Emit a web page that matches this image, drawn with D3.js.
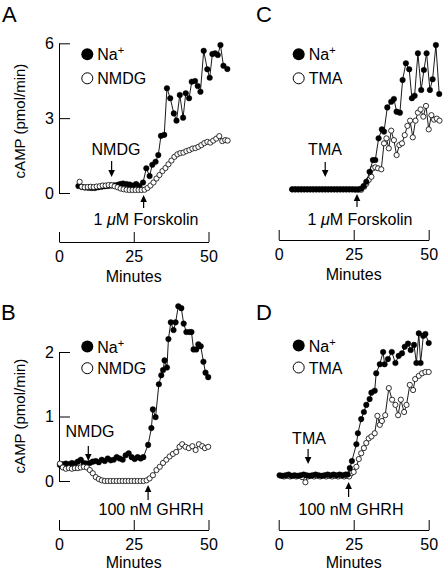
<!DOCTYPE html>
<html><head><meta charset="utf-8">
<script src="https://cdn.jsdelivr.net/npm/d3@7"></script>
<style>
body{margin:0;background:#fff}
text{font-family:"Liberation Sans",Arial,Helvetica,sans-serif;fill:#000}
</style>
</head><body>
<svg id="chart" width="444" height="571"></svg>
<script>
// ---------- data (minutes, cAMP pmol/min) ----------
const xTicks = [0, 25, 50];
const yTicksTop = [0, 3, 6];
const yTicksBottom = [0, 1, 2];

const naA = [[6.5,0.28],[7.6,0.24],[8.7,0.22],[9.8,0.21],[10.9,0.20],[12.0,0.20],[13.1,0.23],[14.2,0.25],[15.3,0.27],[16.4,0.28],[17.5,0.30],[18.6,0.31],[19.7,0.33],[20.5,0.36],[21.4,0.38],[22.5,0.36],[23.6,0.34],[24.7,0.30],[25.8,0.36],[26.9,0.28],[28.1,0.42],[29.2,0.99],[30.3,0.68],[31.2,1.13],[32.3,1.25],[33.2,1.52],[34.1,2.29],[35.2,2.33],[36.1,4.2],[37.2,3.8],[38.4,3.19],[39.3,2.9],[40.4,3.93],[41.5,3.02],[42.4,4.0],[43.5,3.8],[44.4,4.46],[45.5,4.49],[46.4,4.29],[47.3,4.06],[48.4,5.7],[49.6,4.96],[50.4,4.62],[51.3,5.57],[52.2,5.6],[53.1,5.53],[54.0,5.93],[55.0,5.1],[56.3,4.97]];
const nmdgA = [[6.9,0.45],[7.6,0.25],[8.6,0.23],[9.6,0.24],[10.6,0.25],[11.6,0.24],[12.6,0.26],[13.6,0.27],[14.6,0.30],[15.6,0.30],[16.6,0.32],[17.6,0.31],[18.6,0.27],[19.6,0.23],[20.6,0.18],[21.6,0.15],[22.6,0.13],[23.6,0.12],[24.6,0.12],[25.6,0.12],[26.6,0.12],[27.6,0.12],[28.6,0.13],[29.6,0.2],[30.6,0.3],[31.6,0.42],[32.6,0.58],[33.6,0.72],[34.6,0.88],[35.6,1.0],[36.6,1.15],[37.6,1.3],[38.6,1.45],[39.6,1.55],[40.6,1.6],[41.6,1.62],[42.6,1.68],[43.6,1.72],[44.6,1.78],[45.6,1.8],[46.6,1.85],[47.6,1.92],[48.6,2.0],[49.6,2.05],[50.6,2.02],[51.6,2.1],[52.6,2.18],[53.6,2.28],[54.6,2.08],[55.6,2.12],[56.4,2.1]];

const naC = [[4.5,0.15],[5.5,0.15],[6.5,0.15],[7.5,0.15],[8.5,0.15],[9.5,0.15],[10.5,0.15],[11.5,0.15],[12.5,0.15],[13.5,0.15],[14.5,0.15],[15.5,0.15],[16.5,0.15],[17.5,0.15],[18.5,0.15],[19.5,0.15],[20.5,0.15],[21.5,0.15],[22.5,0.15],[23.5,0.15],[24.5,0.15],[25.5,0.15],[26.5,0.15],[27.4,0.17],[28.3,0.28],[29.2,0.45],[30.3,0.85],[31.4,1.32],[32.2,1.32],[33.3,2.19],[34.4,2.55],[35.1,2.46],[36.2,3.43],[37.5,3.66],[38.4,3.77],[39.3,3.26],[40.4,3.22],[41.3,4.53],[42.4,5.2],[43.5,4.96],[44.4,3.8],[45.3,3.9],[46.4,5.6],[47.5,4.13],[48.4,4.93],[49.3,5.6],[50.4,4.13],[51.3,4.56],[52.4,5.93],[53.5,3.97]];
const tmaC = [[4.5,0.14],[5.5,0.14],[6.5,0.14],[7.5,0.14],[8.5,0.14],[9.5,0.14],[10.5,0.14],[11.5,0.14],[12.5,0.14],[13.5,0.14],[14.5,0.14],[15.5,0.14],[16.5,0.14],[17.5,0.14],[18.5,0.14],[19.5,0.14],[20.5,0.14],[21.5,0.14],[22.5,0.14],[23.5,0.14],[24.5,0.14],[25.5,0.13],[26.5,0.13],[27.5,0.13],[28.5,0.25],[29.2,0.37],[30.0,0.52],[30.9,0.65],[31.4,0.99],[32.2,1.03],[33.1,0.99],[34.2,0.95],[35.1,1.99],[35.9,2.19],[36.7,1.79],[37.5,2.5],[38.4,2.12],[39.3,1.52],[40.2,1.92],[41.1,1.99],[42.0,2.32],[42.9,2.69],[43.8,2.9],[44.7,2.23],[45.6,2.9],[46.4,3.22],[47.3,3.35],[48.2,3.06],[49.1,3.49],[50.0,2.55],[50.9,3.12],[51.8,2.94],[52.7,2.98],[53.6,2.9]];

const naB = [[0.3,0.25],[1.3,0.26],[2.3,0.27],[3.3,0.26],[4.3,0.28],[5.3,0.27],[6.3,0.30],[7.3,0.33],[8.3,0.28],[9.3,0.27],[10.3,0.28],[11.3,0.30],[12.3,0.31],[13.3,0.29],[14.3,0.33],[15.3,0.31],[16.3,0.35],[17.3,0.32],[18.3,0.33],[19.3,0.37],[20.3,0.35],[21.3,0.33],[22.3,0.40],[23.3,0.43],[24.3,0.37],[25.3,0.34],[26.3,0.37],[27.3,0.35],[28.2,0.37],[29.8,0.56],[30.9,0.82],[31.4,1.11],[32.3,0.99],[33.4,1.5],[34.2,1.64],[34.8,1.72],[35.3,1.87],[36.1,1.76],[36.6,2.2],[37.4,2.46],[38.3,2.34],[39.0,2.46],[39.9,2.71],[40.9,2.68],[41.7,2.44],[42.6,2.31],[43.7,2.31],[44.3,2.31],[45.0,2.04],[45.9,2.04],[46.6,2.12],[47.4,2.09],[48.3,1.85],[49.0,1.68],[49.9,1.61]];
const nmdgB = [[0.3,0.27],[1.3,0.21],[2.3,0.19],[3.3,0.2],[4.3,0.19],[5.3,0.2],[6.3,0.2],[7.3,0.21],[8.3,0.22],[9.3,0.21],[10.3,0.17],[11.3,0.12],[12.3,0.06],[13.3,0.03],[14.3,0.01],[15.3,0.0],[16.3,0.0],[17.3,0.0],[18.3,0.0],[19.3,0.0],[20.3,0.0],[21.3,0.0],[22.3,0.0],[23.3,0.0],[24.3,0.0],[25.3,0.0],[26.3,0.0],[27.3,0.0],[28.3,0.0],[29.3,0.01],[30.3,0.04],[31.4,0.09],[32.6,0.17],[33.7,0.22],[34.8,0.28],[35.9,0.33],[37.0,0.38],[38.1,0.42],[39.2,0.45],[40.3,0.53],[41.2,0.57],[42.3,0.53],[43.4,0.51],[44.6,0.54],[45.7,0.48],[46.8,0.57],[47.9,0.54],[48.8,0.51],[49.9,0.53]];

const naD = [[0.3,0.09],[1.3,0.08],[2.3,0.09],[3.3,0.1],[4.3,0.08],[5.3,0.09],[6.3,0.08],[7.3,0.09],[8.3,0.1],[9.3,0.09],[10.3,0.08],[11.3,0.09],[12.3,0.1],[13.3,0.09],[14.3,0.08],[15.3,0.09],[16.3,0.1],[17.3,0.09],[18.3,0.1],[19.3,0.09],[20.3,0.1],[21.3,0.09],[22.3,0.1],[23.0,0.1],[23.7,0.2],[24.4,0.31],[25.9,0.57],[26.4,0.74],[27.5,0.96],[28.4,1.07],[29.2,1.18],[30.3,1.27],[30.9,1.37],[32.0,1.4],[32.5,1.67],[33.7,1.81],[34.8,2.0],[35.3,1.81],[36.4,1.89],[37.7,2.0],[38.9,1.83],[40.0,1.94],[41.1,1.98],[42.0,2.08],[43.1,2.13],[44.0,2.03],[45.1,2.11],[45.9,1.83],[46.7,2.29],[47.3,1.83],[48.2,2.25],[48.9,2.28],[50.0,2.14]];
const tmaD = [[0.8,0.08],[1.8,0.07],[2.8,0.08],[3.8,0.07],[4.8,0.08],[5.8,0.07],[6.8,0.08],[7.8,0.06],[8.9,-0.02],[9.8,0.07],[10.8,0.08],[11.8,0.07],[12.8,0.08],[13.8,0.07],[14.8,0.08],[15.8,0.07],[16.8,0.08],[17.8,0.07],[18.8,0.08],[19.8,0.07],[20.8,0.08],[21.8,0.07],[22.8,0.08],[23.5,0.07],[24.2,0.12],[25.0,0.14],[25.9,0.22],[26.7,0.34],[27.5,0.43],[28.4,0.51],[29.2,0.59],[30.0,0.66],[30.9,0.69],[32.0,0.74],[32.9,1.01],[33.7,0.87],[34.4,0.93],[35.5,1.02],[36.7,1.44],[37.8,1.26],[38.9,1.18],[39.8,1.02],[40.7,1.26],[41.8,1.07],[42.6,1.18],[43.7,1.49],[44.8,1.41],[45.5,1.58],[46.7,1.63],[47.8,1.67],[48.9,1.69],[50.0,1.69]];

// ---------- layout ----------
const panels = [
  {letter:"A", lx:2, ly:22, na:naA, alt:nmdgA, altName:"NMDG", xr:[59,208.5], yd:[0,6], yr:[193,43.3], yTicks:yTicksTop, yAxis:true, xAxisY:242, minY:282,
   leg:[87.3,54.3,24], ylab:121, drug:{t:17.6, text:"NMDG", tx:116, ty:155, y1:161, y2:177}, stim:{t:28.3, tx:146, ty:225, y1:195, y2:208, kind:"fsk"}, openTop:true},
  {letter:"C", lx:256, ly:22, na:naC, alt:tmaC, altName:"TMA", xr:[278.7,428.7], yd:[0,6], yr:[193,43.3], yTicks:yTicksTop, yAxis:false, xAxisY:240, minY:280,
   leg:[298.7,54.3,24], drug:{t:15.5, text:"TMA", tx:325, ty:155, y1:162, y2:177}, stim:{t:26.1, tx:360, ty:225, y1:194, y2:207, kind:"fsk"}, openTop:false},
  {letter:"B", lx:1, ly:320, na:naB, alt:nmdgB, altName:"NMDG", xr:[59,208.5], yd:[0,2], yr:[481,352], yTicks:yTicksBottom, yAxis:true, xAxisY:530, minY:568,
   leg:[87.3,346.5,21.7], ylab:416, drug:{t:9.8, text:"NMDG", tx:90, ty:437, y1:446, y2:461}, stim:{t:29.8, tx:151, ty:515, y1:485, y2:500, kind:"ghrh"}, openTop:true},
  {letter:"D", lx:256, ly:320, na:naD, alt:tmaD, altName:"TMA", xr:[278.7,428.7], yd:[0,2], yr:[481,352], yTicks:yTicksBottom, yAxis:false, xAxisY:530, minY:568,
   leg:[298.7,345.5,22], drug:{t:9.8, text:"TMA", tx:309, ty:444, y1:449, y2:464}, stim:{t:23.3, tx:351, ty:515, y1:482, y2:497, kind:"ghrh"}, openTop:false}
];

const svg = d3.select("#chart");
const FS = 16;

function arrow(g, x, yTail, yTip){
  const dir = yTip > yTail ? 1 : -1;
  const hl = 7, hw = 3.3;
  g.append("line").attr("x1",x).attr("x2",x).attr("y1",yTail).attr("y2",yTip - dir*hl)
    .attr("stroke","#000").attr("stroke-width",1.2);
  g.append("path").attr("d",`M${x},${yTip} L${x-hw},${yTip-dir*hl} L${x+hw},${yTip-dir*hl} Z`).attr("fill","#000");
}

panels.forEach(p => {
  const g = svg.append("g");
  const x = d3.scaleLinear().domain([0,50]).range(p.xr);
  const y = d3.scaleLinear().domain(p.yd).range(p.yr);

  g.append("text").attr("x",p.lx).attr("y",p.ly).attr("font-size",22).text(p.letter);

  if (p.yAxis) {
    const ya = g.append("g").attr("transform",`translate(${p.xr[0]},0)`)
      .call(d3.axisLeft(y).tickValues(p.yTicks).tickSizeInner(-11).tickSizeOuter(0).tickPadding(5).tickFormat(d3.format("d")));
    ya.selectAll("path,line").attr("stroke","#000").attr("stroke-width",1);
    ya.selectAll("text").attr("font-size",FS).attr("font-family",null);
    g.append("text").attr("transform",`translate(25,${p.ylab}) rotate(-90)`).attr("text-anchor","middle")
      .attr("font-size",15).text("cAMP (pmol/min)");
  }

  const xa = g.append("g").attr("transform",`translate(0,${p.xAxisY})`)
    .call(d3.axisBottom(x).tickValues(xTicks).tickSizeInner(-10).tickSizeOuter(0).tickPadding(9));
  xa.selectAll("path,line").attr("stroke","#000").attr("stroke-width",1);
  xa.selectAll("text").attr("font-size",FS).attr("font-family",null);
  g.append("text").attr("x",(p.xr[0]+p.xr[1])/2).attr("y",p.minY).attr("text-anchor","middle").attr("font-size",FS).text("Minutes");

  const line = d3.line().x(d=>x(d[0])).y(d=>y(d[1]));
  function drawSeries(data, filled){
    g.append("path").datum(data).attr("d",line).attr("fill","none").attr("stroke","#000").attr("stroke-width",0.9);
    g.selectAll(null).data(data).enter().append("circle")
      .attr("cx",d=>x(d[0])).attr("cy",d=>y(d[1])).attr("r",filled?2.8:2.6)
      .attr("fill",filled?"#000":"#fff").attr("stroke","#000").attr("stroke-width",filled?0.4:0.8);
  }
  if (p.openTop){ drawSeries(p.na,true); drawSeries(p.alt,false); }
  else { drawSeries(p.alt,false); drawSeries(p.na,true); }

  const [lx,ly,dy] = p.leg;
  g.append("circle").attr("cx",lx).attr("cy",ly).attr("r",6).attr("fill","#000");
  g.append("circle").attr("cx",lx).attr("cy",ly+dy).attr("r",5.5).attr("fill","#fff").attr("stroke","#000").attr("stroke-width",1);
  const t1 = g.append("text").attr("x",lx+10).attr("y",ly+6).attr("font-size",FS);
  t1.append("tspan").text("Na");
  t1.append("tspan").attr("dy",-6).attr("font-size",11).text("+");
  g.append("text").attr("x",lx+10).attr("y",ly+dy+6).attr("font-size",FS).text(p.altName);

  g.append("text").attr("x",p.drug.tx).attr("y",p.drug.ty).attr("text-anchor","middle").attr("font-size",FS).text(p.drug.text);
  arrow(g, x(p.drug.t), p.drug.y1, p.drug.y2);

  arrow(g, x(p.stim.t), p.stim.y2, p.stim.y1);
  const st = g.append("text").attr("x",p.stim.tx).attr("y",p.stim.ty).attr("text-anchor","middle").attr("font-size",FS);
  if (p.stim.kind === "fsk") {
    st.append("tspan").text("1 ");
    st.append("tspan").attr("font-style","italic").text("\u03bc");
    st.append("tspan").text("M Forskolin");
  } else {
    st.text("100 nM GHRH");
  }
});
</script>
</body></html>
